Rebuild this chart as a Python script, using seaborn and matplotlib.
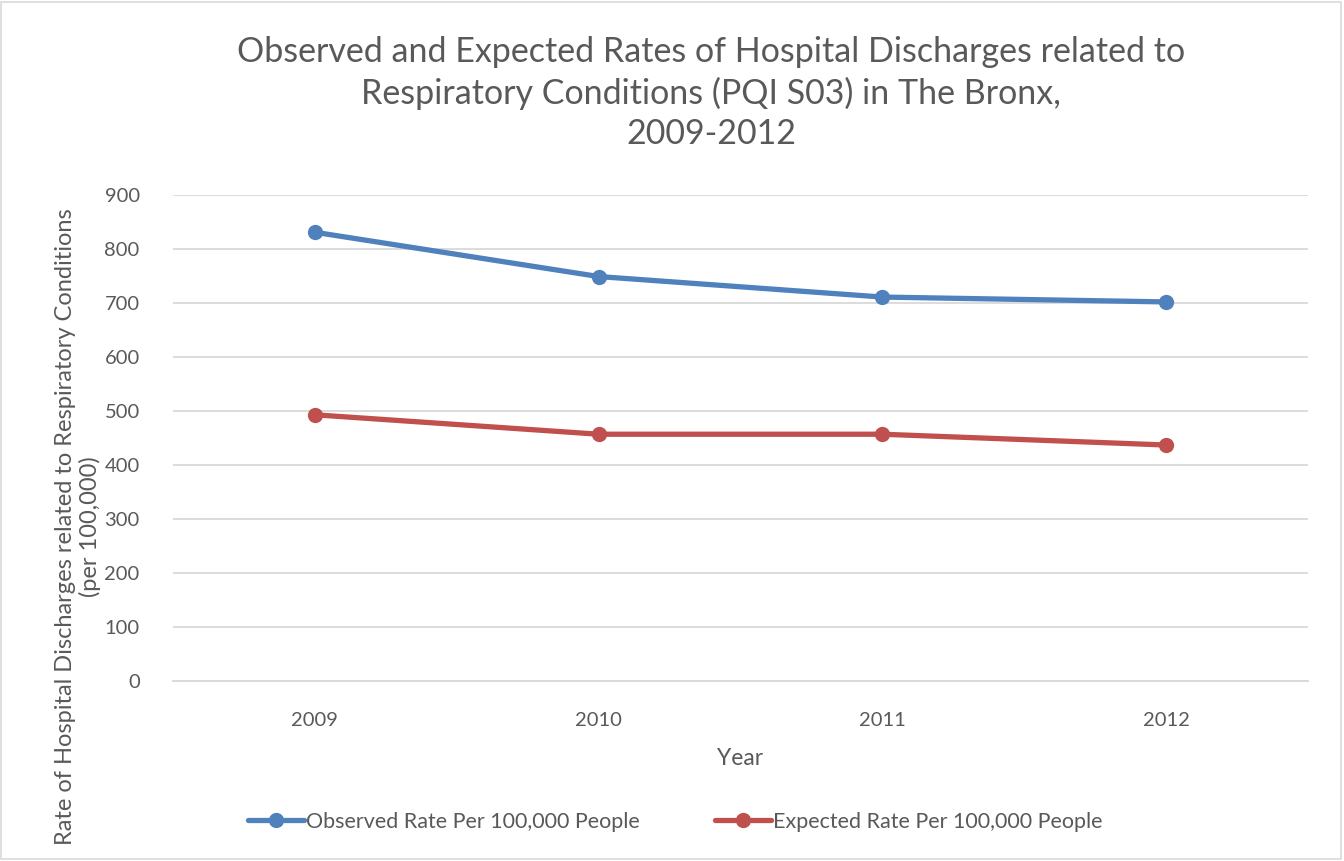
import matplotlib
matplotlib.use("Agg")
import matplotlib.pyplot as plt
import pandas as pd
import seaborn as sns
from matplotlib.patches import Rectangle

years = ["2009", "2010", "2011", "2012"]
observed = [831, 749, 711, 702]
expected = [493, 457, 457, 437]
series_names = ["Observed Rate Per 100,000 People", "Expected Rate Per 100,000 People"]
colors = ["#4F81BD", "#C0504D"]

df = pd.DataFrame({
    "Year": years * 2,
    "Rate": observed + expected,
    "Series": [series_names[0]] * len(years) + [series_names[1]] * len(years),
})

sns.set_style("white")
plt.rcParams["font.family"] = ["Lato", "DejaVu Sans"]
text_color = "#595959"

fig = plt.figure(figsize=(13.44, 8.61), dpi=100)
ax = fig.add_axes([173 / 1344, 1 - 681 / 861, (1308 - 173) / 1344, (681 - 195) / 861])

sns.lineplot(data=df, x="Year", y="Rate", hue="Series", palette=colors,
             marker="o", markersize=11, markeredgewidth=0, linewidth=3.8,
             ax=ax, legend=True)

ax.set_xlim(-0.5, 3.5)
ax.set_ylim(0, 900)
ax.set_yticks(range(0, 901, 100))
ax.grid(axis="y", color="#D9D9D9", linewidth=1.3)
ax.set_axisbelow(True)
for side in ["top", "right", "left"]:
    ax.spines[side].set_visible(False)
ax.spines["bottom"].set_color("#D9D9D9")
ax.spines["bottom"].set_linewidth(1.3)
ax.tick_params(axis="both", length=0, labelsize=14.5, colors=text_color)
ax.tick_params(axis="x", pad=22)
ax.tick_params(axis="y", pad=24)
ax.set_xlabel("Year", fontsize=16.5, color=text_color, labelpad=14)
ax.set_ylabel("")

# y label is long; keep it inside the frame
fig.text(0.058, 1 - 527 / 861, "Rate of Hospital Discharges related to Respiratory Conditions\n(per 100,000)",
         rotation=90, ha="center", va="center", multialignment="center",
         fontsize=17, color=text_color, linespacing=1.2)

fig.text(711 / 1344, 1 - 93 / 861,
         "Observed and Expected Rates of Hospital Discharges related to\n"
         "Respiratory Conditions (PQI S03) in The Bronx,\n2009-2012",
         ha="center", va="center", fontsize=24.5, color=text_color, linespacing=1.3)

handles, labels = ax.get_legend_handles_labels()
ax.get_legend().remove()
fig.legend(handles, labels, loc="center", bbox_to_anchor=(675 / 1344, 1 - 822 / 861),
           ncol=2, frameon=False, fontsize=15.5, labelcolor=text_color,
           handlelength=2.6, handletextpad=0.1, columnspacing=3.5)

fig.patches.append(Rectangle((0.001, 0.002), 0.997, 0.996, transform=fig.transFigure,
                             fill=False, edgecolor="#D9D9D9", linewidth=1.2))

fig.savefig("out.png", dpi=100)
